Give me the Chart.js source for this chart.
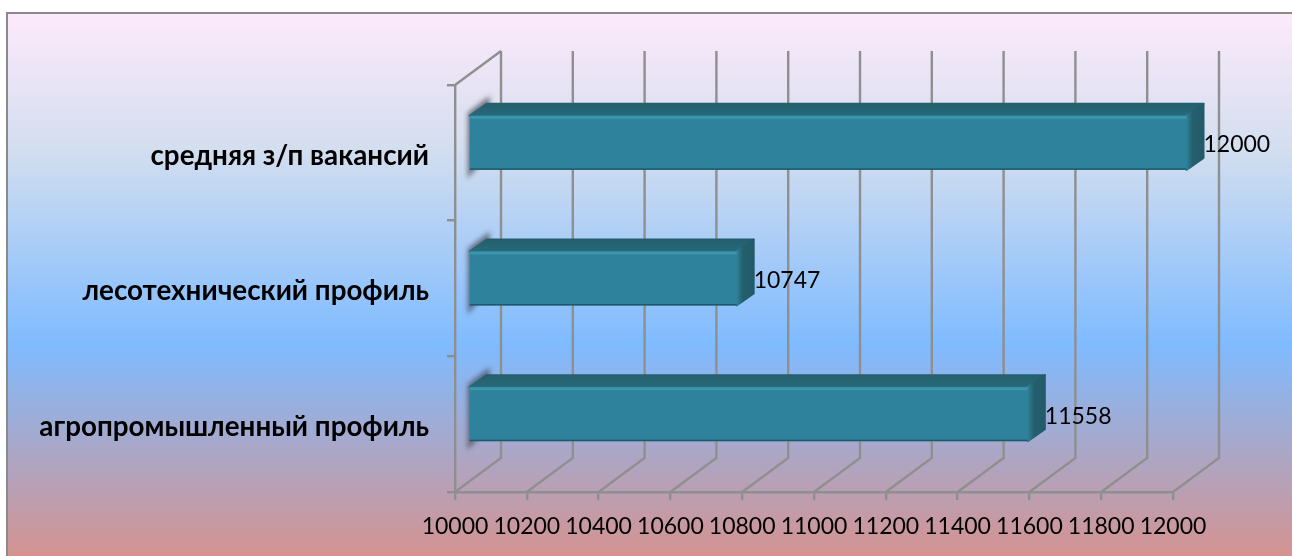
<!DOCTYPE html>
<html><head><meta charset="utf-8">
<style>html,body{margin:0;padding:0;background:#fff}canvas{display:block}</style>
<script src="https://cdn.jsdelivr.net/npm/chart.js@4"></script>
</head><body>
<canvas id="c" width="1292" height="556"></canvas>
<script>
const categories = ["средняя з/п вакансий", "лесотехнический профиль", "агропромышленный профиль"];
const values = [12000, 10747, 11558];
const axisMin = 10000, axisMax = 12000, axisStep = 200;

const FONT = 'Lato, "Open Sans", sans-serif';
const GRID = '#8f8f8f';
const wall = {dx: 46, dy: 34};
const front = {dx: 13.5, dy: -10};
const depth = {dx: 17, dy: -12};

function poly(ctx, pts, fill, round){
  ctx.beginPath();
  pts.forEach((p,i)=> i ? ctx.lineTo(p[0],p[1]) : ctx.moveTo(p[0],p[1]));
  ctx.closePath();
  ctx.fillStyle = fill; ctx.fill();
  if(round){ ctx.strokeStyle = fill; ctx.lineWidth = 2; ctx.lineJoin = 'round'; ctx.stroke(); }
}
function box(bar){
  const h = bar.height/2;
  return {l: bar.base + front.dx, r: bar.x + front.dx, t: bar.y - h + front.dy, b: bar.y + h + front.dy};
}

const scene = {
  id: 'scene',
  beforeDraw(chart){
    const {ctx, width, height} = chart;
    const g = ctx.createLinearGradient(0, 13, 0, height);
    g.addColorStop(0, '#fdeafb');
    g.addColorStop(0.25, '#d3deef');
    g.addColorStop(0.61, '#7fbbff');
    g.addColorStop(1, '#d49391');
    ctx.save();
    ctx.fillStyle = '#fff'; ctx.fillRect(0,0,width,height);
    ctx.fillStyle = g; ctx.fillRect(6,12,width-6,height-12);
    ctx.fillStyle = '#8a8a8a';
    ctx.fillRect(6,12,width-6,2);
    ctx.fillRect(6,12,2,height-12);
    ctx.restore();
    chart.scales.y.getLabelItems().forEach(it=>{
      if(!it.lowered){ it.options.translation[1] += 3; it.lowered = true; }
    });
  },
  beforeDatasetsDraw(chart){
    const {ctx, chartArea:a, scales:{x}} = chart;
    ctx.save();
    // back wall and floor lines
    ctx.strokeStyle = GRID; ctx.lineWidth = 2.4;
    x.ticks.forEach(t=>{
      const p = x.getPixelForValue(t.value);
      ctx.beginPath();
      ctx.moveTo(p, a.bottom);
      ctx.lineTo(p+wall.dx, a.bottom-wall.dy);
      ctx.lineTo(p+wall.dx, a.top-wall.dy);
      ctx.stroke();
    });
    ctx.beginPath();
    ctx.moveTo(a.left, a.top);
    ctx.lineTo(a.left+wall.dx, a.top-wall.dy);
    ctx.stroke();
    // bars: shadow and hidden faces
    chart.getDatasetMeta(0).data.forEach(bar=>{
      const b = box(bar);
      ctx.save();
      ctx.filter = 'blur(2.5px)';
      poly(ctx, [[b.l-2,b.t-3],[b.l+20,b.t-20],[b.l+20,b.b-18],[b.l-2,b.b+9]], 'rgba(70,70,80,0.7)');
      ctx.restore();
      const tg = ctx.createLinearGradient(0,b.t+depth.dy,0,b.t);
      tg.addColorStop(0,'#245f6e'); tg.addColorStop(1,'#266a7b');
      poly(ctx, [[b.l,b.t],[b.l+depth.dx,b.t+depth.dy],[b.r+depth.dx,b.t+depth.dy],[b.r,b.t]], tg, true);
      const sg = ctx.createLinearGradient(b.r,0,b.r+depth.dx,0);
      sg.addColorStop(0,'#2f8195'); sg.addColorStop(0.35,'#245f6e'); sg.addColorStop(1,'#225a68');
      poly(ctx, [[b.r,b.t],[b.r+depth.dx,b.t+depth.dy],[b.r+depth.dx,b.b+depth.dy],[b.r,b.b]], sg, true);
    });
    ctx.translate(front.dx, front.dy);
  },
  afterDatasetsDraw(chart){
    const {ctx} = chart;
    ctx.restore();
    ctx.save();
    chart.getDatasetMeta(0).data.forEach((bar,i)=>{
      const b = box(bar);
      ctx.fillStyle = '#3b95ae'; ctx.fillRect(b.l, b.t, b.r-b.l, 3);
      ctx.fillStyle = '#1e5a6b'; ctx.fillRect(b.l, b.b-1.5, b.r-b.l, 1.5);
      ctx.fillStyle = '#000';
      ctx.font = '23px ' + FONT;
      ctx.textAlign = 'left'; ctx.textBaseline = 'middle';
      ctx.fillText(String(values[i]), b.r + depth.dx, (b.t+b.b)/2 + 2);
    });
    ctx.restore();
  }
};

new Chart(document.getElementById('c'), {
  type: 'bar',
  data: {labels: categories, datasets: [{
    data: values,
    base: axisMin,
    backgroundColor: '#2f829b',
    borderWidth: 0,
    barPercentage: 0.398,
    categoryPercentage: 1,
    clip: false
  }]},
  plugins: [scene],
  options: {
    responsive: false,
    animation: false,
    indexAxis: 'y',
    layout: {padding: {top: 85, right: 119, left: 0, bottom: 0}},
    plugins: {legend: {display: false}, tooltip: {enabled: false}, title: {display: false}},
    scales: {
      x: {
        type: 'linear', min: axisMin, max: axisMax,
        ticks: {stepSize: axisStep, autoSkip: false, maxRotation: 0, color: '#000', padding: 13,
                font: {family: FONT, size: 23}, callback: v => String(v)},
        grid: {drawOnChartArea: false, tickLength: 8, color: GRID, lineWidth: 2.4},
        border: {color: GRID, width: 2.4},
        afterFit(s){ s.height = 64; }
      },
      y: {
        type: 'category',
        ticks: {color: '#000', padding: 18, autoSkip: false, font: {family: FONT, size: 27.8, weight: 'bold'}},
        grid: {offset: true, drawOnChartArea: false, tickLength: 8, color: GRID, lineWidth: 2.4},
        border: {color: GRID, width: 2.4},
        afterFit(s){ s.width = 455; }
      }
    }
  }
});
</script>
</body></html>
